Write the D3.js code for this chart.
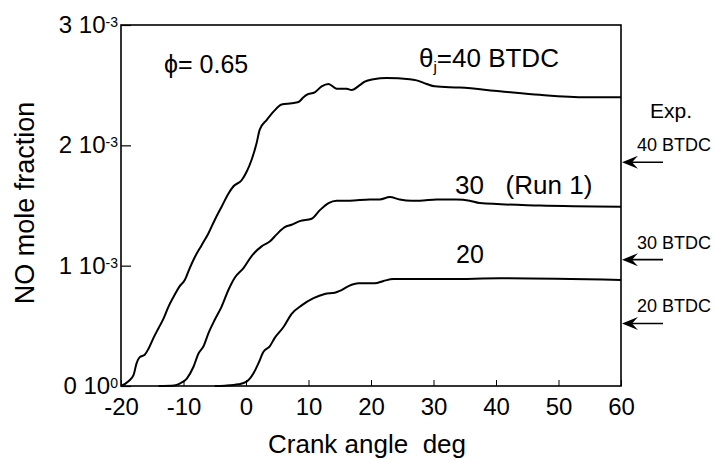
<!DOCTYPE html>
<html><head><meta charset="utf-8">
<script src="https://cdn.jsdelivr.net/npm/d3@7"></script>
<style>
body{margin:0;background:#fff}
svg{display:block}
text{font-family:"Liberation Sans",Arial,Helvetica,sans-serif;fill:#000}
</style>
</head><body>
<svg id="c" width="717" height="460"></svg>
<script>
// ---- data (crank angle in deg, NO mole fraction in units of 1e-3) ----
const angle40 = [-20, -18.8, -18.0, -17.5, -17.0, -16.2, -15.6, -14.8, -14.0, -13.2, -12.4, -11.6, -10.6, -9.8, -9.0, -8.2, -7.1, -6.0, -5.0, -3.9, -2.8, -2.0, -0.7, 0.1, 0.9, 1.7, 2.2, 3.3, 4.4, 5.7, 7.3, 8.4, 9.2, 9.7, 11.0, 12.1, 13.2, 14.5, 16.1, 16.9, 18.2, 19.0, 20.4, 22.5, 26.2, 27.3, 28.9, 30.2, 34.2, 40.6, 47.0, 54.5, 60];
const no40 = [0, 0.04, 0.09, 0.19, 0.24, 0.26, 0.31, 0.40, 0.48, 0.56, 0.66, 0.74, 0.83, 0.88, 0.98, 1.07, 1.17, 1.27, 1.38, 1.49, 1.60, 1.66, 1.71, 1.78, 1.88, 2.02, 2.13, 2.21, 2.28, 2.34, 2.35, 2.36, 2.40, 2.42, 2.44, 2.49, 2.51, 2.47, 2.47, 2.46, 2.50, 2.53, 2.55, 2.56, 2.55, 2.54, 2.51, 2.49, 2.48, 2.45, 2.42, 2.40, 2.40];

const angle30 = [-14, -11.5, -10.6, -9.5, -8.4, -7.6, -6.8, -6.0, -5.0, -3.9, -2.8, -1.8, -0.4, 0.9, 2.5, 3.8, 4.9, 6.2, 7.3, 8.6, 10.5, 11.8, 13.2, 14.5, 16.6, 19.8, 21.4, 23.0, 24.6, 26.5, 27.8, 30.5, 33.7, 35.8, 37.4, 47.0, 60];
const no30 = [0, 0.005, 0.02, 0.06, 0.16, 0.27, 0.33, 0.44, 0.55, 0.66, 0.80, 0.90, 0.98, 1.08, 1.16, 1.20, 1.26, 1.32, 1.34, 1.37, 1.39, 1.46, 1.52, 1.54, 1.54, 1.55, 1.55, 1.57, 1.55, 1.54, 1.54, 1.55, 1.55, 1.54, 1.52, 1.50, 1.49];

const angle20 = [-5, -3.4, -1.2, 0.1, 1.2, 2.0, 2.8, 3.8, 4.6, 6.0, 7.3, 8.9, 10.8, 12.6, 14.2, 15.0, 16.4, 18.0, 20.6, 22.0, 23.6, 27.3, 32.6, 40.6, 60];
const no20 = [0, 0.003, 0.014, 0.036, 0.105, 0.19, 0.285, 0.33, 0.40, 0.49, 0.60, 0.67, 0.73, 0.765, 0.775, 0.79, 0.83, 0.853, 0.853, 0.873, 0.889, 0.889, 0.889, 0.895, 0.881];

const xTicks = [-20, -10, 0, 10, 20, 30, 40, 50, 60];
const yTicks = [0, 1, 2, 3];
const yTickExp = ["0", "-3", "-3", "-3"];

const expLabels = ["40 BTDC", "30 BTDC", "20 BTDC"];
const expNO = [1.86, 1.05, 0.52];

// ---- drawing ----
const svg = d3.select("#c");
const x = d3.scaleLinear().domain([-20, 60]).range([121, 621]);
const y = d3.scaleLinear().domain([0, 3]).range([386, 25]);

// x axis (inward ticks)
const gx = svg.append("g").attr("transform", `translate(0,${y(0)})`)
  .call(d3.axisBottom(x).tickValues(xTicks).tickSizeInner(-6).tickSizeOuter(0).tickPadding(12).tickFormat(d => String(d)));
gx.select(".domain").remove();
gx.selectAll("line").attr("stroke", "#000").attr("stroke-width", 1);
gx.selectAll("text").attr("font-size", 24).attr("font-family", '"Liberation Sans",Arial,sans-serif');

// y axis (inward ticks, labels drawn separately)
const gy = svg.append("g").attr("transform", `translate(${x(-20)},0)`)
  .call(d3.axisLeft(y).tickValues(yTicks).tickSizeInner(-10).tickSizeOuter(0).tickFormat(""));
gy.select(".domain").remove();
gy.selectAll("line").attr("stroke", "#000").attr("stroke-width", 1.2);

const yl = svg.append("g").selectAll("text").data(yTicks).join("text")
  .attr("x", x(-20) - 3)
  .attr("y", d => y(d) + 8)
  .attr("text-anchor", "end")
  .attr("font-size", 24);
yl.append("tspan").text(d => d + " 10");
yl.append("tspan").attr("dy", -6).attr("font-size", 14).text((d, i) => yTickExp[i]);

// frame
svg.append("rect").attr("x", x(-20)).attr("y", y(3))
  .attr("width", x(60) - x(-20)).attr("height", y(0) - y(3))
  .attr("fill", "none").attr("stroke", "#000").attr("stroke-width", 1.6);

// curves
const line = d3.line().x(d => x(d[0])).y(d => y(d[1])).curve(d3.curveMonotoneX);
const series = [
  d3.zip(angle40, no40),
  d3.zip(angle30, no30),
  d3.zip(angle20, no20)
];
svg.append("g").selectAll("path").data(series).join("path")
  .attr("d", line).attr("fill", "none").attr("stroke", "#000")
  .attr("stroke-width", 2).attr("stroke-linejoin", "round");

// axis titles
svg.append("text").attr("x", 367).attr("y", 453).attr("text-anchor", "middle")
  .attr("font-size", 26).style("white-space", "pre").text("Crank angle  deg");
svg.append("text").attr("transform", "translate(34,203) rotate(-90)")
  .attr("text-anchor", "middle").attr("font-size", 27).text("NO mole fraction");

// annotations
svg.append("text").attr("x", 164).attr("y", 73).attr("font-size", 25).text("\u03D5= 0.65");

const th = svg.append("text").attr("x", 419).attr("y", 67).attr("font-size", 26);
th.append("tspan").text("\u03B8");
th.append("tspan").attr("dy", 5).attr("font-size", 15).text("j");
th.append("tspan").attr("dy", -5).text("=40 BTDC");

svg.append("text").attr("x", 455).attr("y", 194).attr("font-size", 26)
  .style("white-space", "pre").text("30   (Run 1)");
svg.append("text").attr("x", 456).attr("y", 263).attr("font-size", 25).text("20");

svg.append("text").attr("x", 650).attr("y", 118).attr("font-size", 21).text("Exp.");

// experimental arrows
const ea = svg.append("g").selectAll("g").data(expNO).join("g")
  .attr("transform", d => `translate(0,${y(d)})`);
ea.append("line").attr("x1", 630).attr("x2", 663).attr("y1", 0).attr("y2", 0)
  .attr("stroke", "#000").attr("stroke-width", 1.6);
ea.append("path").attr("d", "M622,0 L638,-6.5 L632,0 L638,6.5 Z").attr("fill", "#000");
ea.append("text").attr("x", 637).attr("y", -11).attr("font-size", 18)
  .text((d, i) => expLabels[i]);
</script>
</body></html>
